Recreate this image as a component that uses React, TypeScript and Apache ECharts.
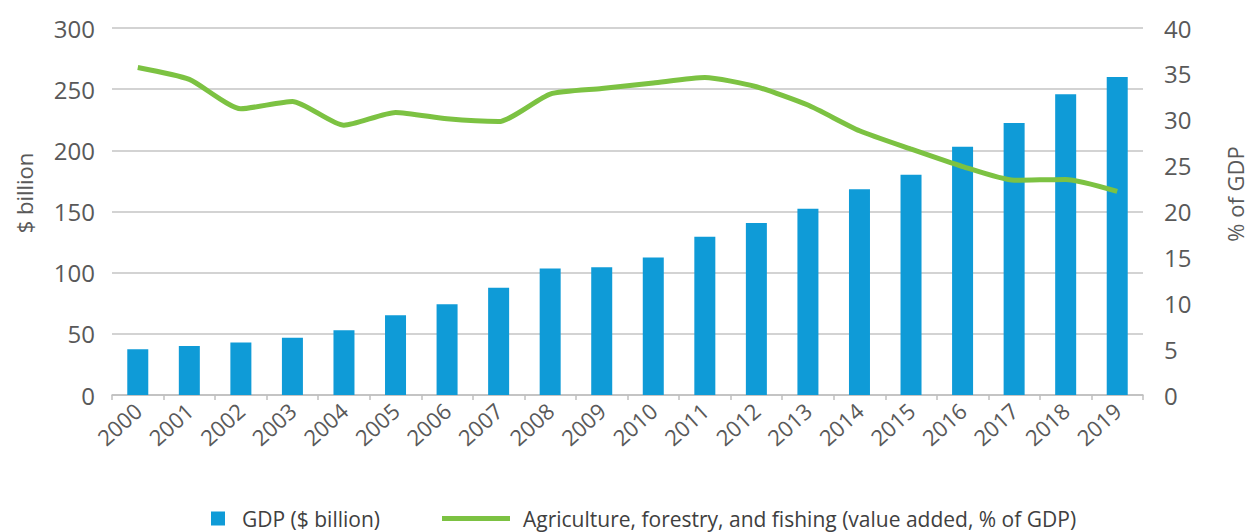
import React, { useEffect, useRef } from "react";
import * as echarts from "echarts";

const years = ["2000","2001","2002","2003","2004","2005","2006","2007","2008","2009","2010","2011","2012","2013","2014","2015","2016","2017","2018","2019"];
const gdp = [37.3, 40, 43, 46.8, 53, 65.1, 74.1, 87.7, 103.5, 104.4, 112.5, 129.4, 140.6, 152.3, 168.1, 180, 203, 222.3, 245.8, 260];
const agriShare = [35.7, 34.4, 31.2, 32.0, 29.4, 30.8, 30.1, 29.8, 32.8, 33.4, 34.0, 34.6, 33.6, 31.6, 28.8, 26.8, 24.9, 23.4, 23.5, 22.2];
const leftTicks = { min: 0, max: 300, interval: 50 };
const rightTicks = { min: 0, max: 40, interval: 5 };
const gdpName = "GDP ($ billion)";
const agriName = "Agriculture, forestry, and fishing (value added, % of GDP)";

const FONT = "'Open Sans', 'Noto Sans', sans-serif";

export default function App() {
  const ref = useRef<HTMLDivElement>(null);
  useEffect(() => {
    if (!ref.current) return;
    const chart = echarts.init(ref.current, null, { renderer: "svg" });
    chart.setOption({
      animation: false,
      textStyle: { fontFamily: FONT },
      grid: { left: 112, right: 108, top: 28, bottom: 137, containLabel: false },
      legend: [
        {
          data: [{ name: gdpName, icon: "rect" }],
          left: 206, top: 503, itemWidth: 14, itemHeight: 14, itemGap: 0,
          textStyle: { fontFamily: FONT, fontSize: 21, color: "#404040", padding: [0, 0, 0, 12] },
        },
        {
          data: [{ name: agriName, icon: "rect" }],
          left: 437, top: 503, itemWidth: 68, itemHeight: 5,
          textStyle: { fontFamily: FONT, fontSize: 21, color: "#404040", padding: [0, 0, 0, 8] },
        },
      ],
      graphic: [
        { type: "text", x: 24, y: 193, rotation: Math.PI / 2,
          style: { text: "$ billion", fontFamily: FONT, fontSize: 22, fill: "#595959", textAlign: "center", textVerticalAlign: "middle" } },
        { type: "text", x: 1235, y: 194, rotation: Math.PI / 2,
          style: { text: "% of GDP", fontFamily: FONT, fontSize: 22, fill: "#595959", textAlign: "center", textVerticalAlign: "middle" } },
      ],
      xAxis: {
        type: "category",
        data: years,
        boundaryGap: true,
        axisLine: { lineStyle: { color: "#bfbfbf", width: 1.5 } },
        axisTick: { show: true, length: 5, lineStyle: { color: "#bfbfbf", width: 1.5 } },
        axisLabel: { rotate: 42, fontSize: 22, color: "#595959", margin: 12, interval: 0 },
      },
      yAxis: [
        {
          type: "value", ...leftTicks,
          axisLine: { show: false }, axisTick: { show: false },
          splitLine: { lineStyle: { color: "#c4c4c4", width: 1.5 } },
          axisLabel: { fontSize: 24, color: "#595959", margin: 17 },
        },
        {
          type: "value", ...rightTicks, position: "right",
          axisLine: { show: false }, axisTick: { show: false },
          splitLine: { show: false },
          axisLabel: { fontSize: 24, color: "#595959", margin: 21 },
        },
      ],
      series: [
        {
          name: gdpName, type: "bar", data: gdp, yAxisIndex: 0,
          barWidth: 21, itemStyle: { color: "#0f9bd7" },
        },
        {
          name: agriName, type: "line", data: agriShare, yAxisIndex: 1,
          smooth: 0.2, showSymbol: false, symbol: "none",
          lineStyle: { color: "#7cc242", width: 5 }, itemStyle: { color: "#7cc242" },
        },
      ],
    });
    return () => chart.dispose();
  }, []);
  return (
    <div ref={ref} style={{ position: "fixed", left: 0, top: 0, width: 1251, height: 532, background: "#fff" }} />
  );
}
